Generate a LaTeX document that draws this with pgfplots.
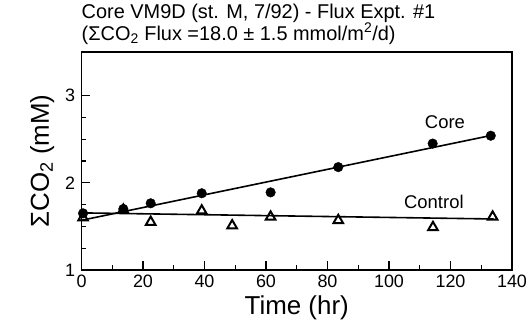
\documentclass[border=0pt]{standalone}
\usepackage{pgfplots}
\pgfplotsset{compat=1.18}
\usepackage{fontspec}
\setmainfont{Liberation Sans}
\begin{document}
\begin{tikzpicture}
\path[use as bounding box] (-81.5bp,-58bp) rectangle (447.5bp,270bp);
\begin{axis}[
  scale only axis,
  width=430.5bp, height=218bp,
  xmin=0, xmax=140, ymin=1, ymax=3.5,
  xtick={0,20,...,140}, minor x tick num=1,
  ytick={1,2,3}, minor y tick num=3,
  xtick pos=left, ytick pos=left,
  tick align=inside,
  major tick length=9bp, minor tick length=5bp,
  every tick/.style={black, line width=1.2bp},
  axis line style={line width=1.8bp},
  /pgf/number format/assume math mode=true,
  ticklabel style={font=\fontsize{18}{18}\selectfont},
  xticklabel style={yshift=-1bp},
  yticklabel style={xshift=-3bp},
  xlabel={Time (hr)},
  ylabel={ΣCO\textsubscript{2} (mM)},
  label style={font=\fontsize{26}{27}\selectfont},
  xlabel style={yshift=-2bp},
  ylabel style={yshift=4bp},
  clip=false,
]
% Core fit line
\addplot[black, line width=1.6bp] coordinates {(0,1.57) (133.5,2.545)};
% Control fit line
\addplot[black, line width=1.6bp] coordinates {(0,1.655) (134,1.585)};
% Control data
\addplot[only marks, mark=triangle, mark size=5.5bp, mark options={line width=2bp, black, fill=white}] coordinates {
(0.5,1.60) (13.6,1.69) (22.5,1.55) (39.1,1.68) (49.0,1.51) (61.5,1.61) (83.5,1.57) (114.3,1.49) (133.7,1.61)
};
% Core data
\addplot[only marks, mark=*, mark size=4.8bp, black] coordinates {
(0.5,1.65) (13.6,1.70) (22.5,1.765) (39.1,1.88) (61.5,1.89) (83.5,2.18) (114.2,2.45) (133.1,2.54)
};
\node[font=\fontsize{18.5}{19}\selectfont] at (axis cs:118.2,2.69) {Core};
\node[font=\fontsize{18.5}{19}\selectfont] at (axis cs:114.6,1.78) {Control};
\end{axis}
\node[anchor=base west, inner sep=0pt, font=\fontsize{20}{20}\selectfont] at (0bp,251.5bp) {Core VM9D (st. M, 7/92) - Flux Expt. \#1};
\node[anchor=base west, inner sep=0pt, font=\fontsize{20}{20}\selectfont] at (0bp,229.5bp) {(ΣCO\textsubscript{2} Flux =18.0 ± 1.5 mmol/m\textsuperscript{2}/d)};
\end{tikzpicture}
\end{document}
